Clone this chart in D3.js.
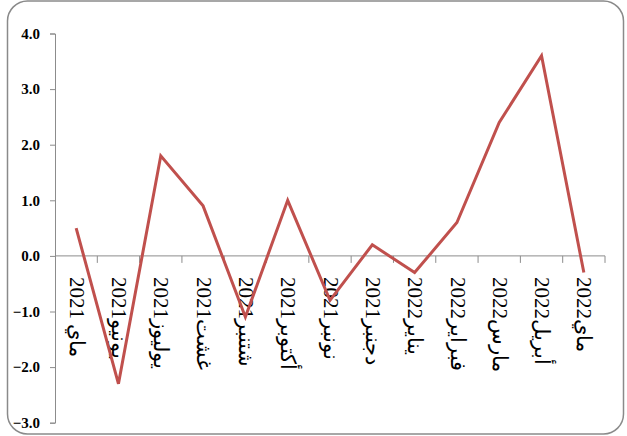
<!DOCTYPE html>
<html>
<head>
<meta charset="utf-8">
<script src="https://cdn.jsdelivr.net/npm/d3@7"></script>
<style>
  body { margin: 0; background: #fff; }
  svg { display: block; }
</style>
</head>
<body>
<div id="chart"></div>
<script>
// months (Moroccan names), may 2021 -> may 2022
var months = ["2021 ماي", "2021يونيو", "2021يوليوز", "2021غشت", "2021شتنبر", "2021أكتوبر",
	"2021نونبر", "2021دجنبر", "2022يناير", "2022فبراير", "2022مارس", "2022أبريل", "2022ماي"];
var values = [0.5, -2.3, 1.8, 0.9, -1.1, 1.0, -0.8, 0.2, -0.3, 0.6, 2.4, 3.6, -0.3];
var yTicks = [4, 3, 2, 1, 0, -1, -2, -3];

var width = 627, height = 436;
var plotLeft = 55, plotRight = 605, plotTop = 33.5, plotBottom = 422.7;

var svg = d3.select("#chart")
	.append("svg")
	.attr("width", width)
	.attr("height", height);

// rounded frame
svg.append("rect")
	.attr("x", 7.5)
	.attr("y", 1)
	.attr("width", 616)
	.attr("height", 433)
	.attr("rx", 20)
	.attr("fill", "none")
	.attr("stroke", "#8a8a8a")
	.attr("stroke-width", 1.5);

var x = d3.scaleBand()
	.domain(months)
	.range([plotLeft, plotRight])
	.padding(0);

var y = d3.scaleLinear()
	.domain([-3, 4])
	.range([plotBottom, plotTop]);

// y axis
var yAxis = svg.append("g")
	.attr("transform", "translate(" + plotLeft + ",0)")
	.call(d3.axisLeft(y).tickValues(yTicks).tickSize(5).tickPadding(10)
		.tickFormat(d3.format(".1f")));
yAxis.select(".domain").attr("stroke", "#8c8c8c");
yAxis.selectAll(".tick line").attr("stroke", "#8c8c8c");
yAxis.selectAll("text")
	.attr("fill", "#000")
	.style("font-family", "'Liberation Serif', serif")
	.style("font-weight", "bold")
	.style("font-size", "15px");

// x axis at zero, ticks between categories
var xAxis = svg.append("g")
	.attr("transform", "translate(0," + y(0) + ")");
xAxis.append("line")
	.attr("x1", plotLeft)
	.attr("x2", plotRight)
	.attr("stroke", "#8c8c8c");
xAxis.selectAll(".xtick")
	.data(months)
	.enter()
	.append("line")
	.attr("x1", function(d) { return x(d) + x.bandwidth(); })
	.attr("x2", function(d) { return x(d) + x.bandwidth(); })
	.attr("y1", 0)
	.attr("y2", 7)
	.attr("stroke", "#8c8c8c");

xAxis.selectAll(".xlab")
	.data(months)
	.enter()
	.append("text")
	.attr("transform", function(d) {
		return "translate(" + (x(d) + x.bandwidth() / 2 + 1) + ",21) rotate(90)";
	})
	.attr("dy", "0.35em")
	.attr("text-anchor", "start")
	.style("font-family", "'Liberation Serif', 'DejaVu Serif', serif")
	.style("font-size", "21px")
	.attr("fill", "#000")
	.text(function(d) { return d; });

// line
var line = d3.line()
	.x(function(d, i) { return x(months[i]) + x.bandwidth() / 2; })
	.y(function(d) { return y(d); });

svg.append("path")
	.datum(values)
	.attr("d", line)
	.attr("fill", "none")
	.attr("stroke", "#C0504D")
	.attr("stroke-width", 3)
	.attr("stroke-linejoin", "miter");
</script>
</body>
</html>
